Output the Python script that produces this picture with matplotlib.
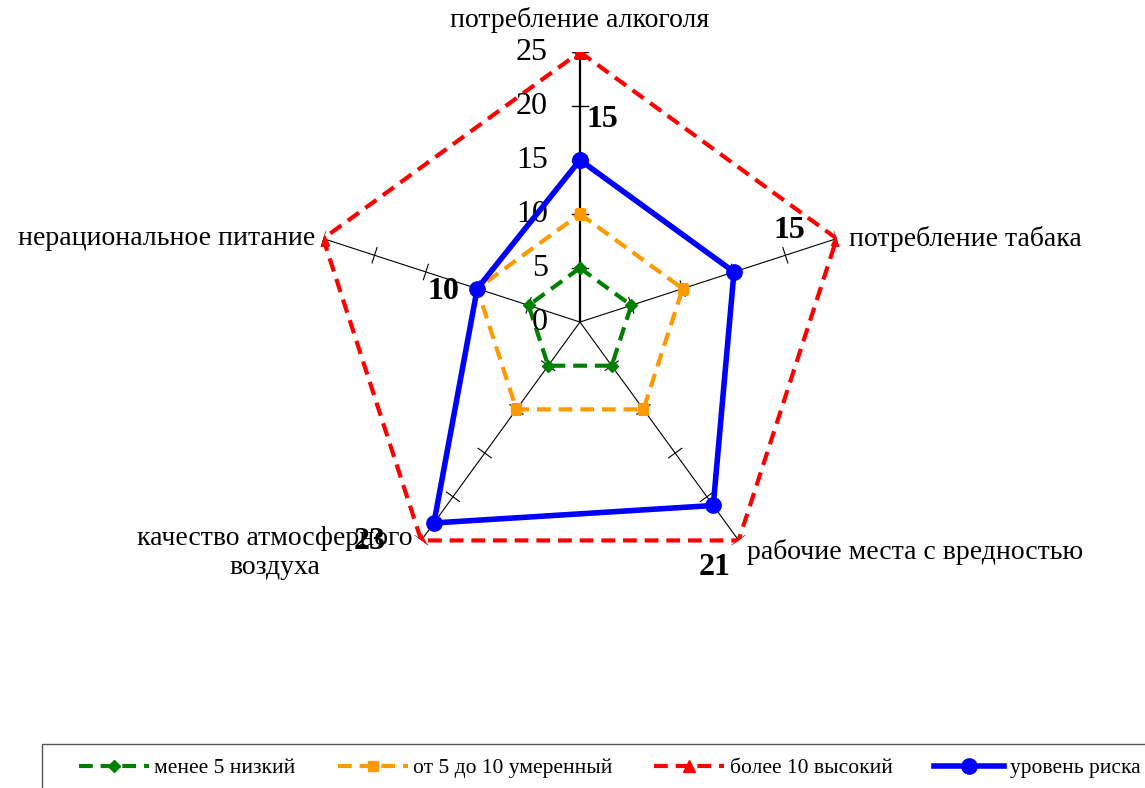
import numpy as np
import matplotlib
matplotlib.use("Agg")
import matplotlib.pyplot as plt
from matplotlib.patches import Rectangle

plt.rcParams['font.family'] = ['Liberation Serif', 'DejaVu Serif']

categories = ['потребление алкоголя', 'потребление табака', 'рабочие места с вредностью',
              'качество атмосферного\nвоздуха', 'нерациональное питание']
low = [5, 5, 5, 5, 5]
moderate = [10, 10, 10, 10, 10]
high = [25, 25, 25, 25, 25]
risk = [15, 15, 21, 23, 10]
radial_ticks = [0, 5, 10, 15, 20, 25]

n = len(categories)
theta = np.arange(n) * 2 * np.pi / n
tc = np.append(theta, theta[0])

def closed(v):
    return list(v) + [v[0]]

fig = plt.figure(figsize=(11.45, 7.88), dpi=100)
ax = fig.add_axes([0.2707, 0.2487, 0.4716, 0.6853], projection='polar')
ax.set_theta_offset(np.pi / 2)
ax.set_theta_direction(-1)
ax.set_ylim(0, 25)
ax.grid(False)
ax.spines['polar'].set_visible(False)
ax.set_xticks([])
ax.set_yticks([])
ax.patch.set_alpha(0)

# spokes with tick marks
for i, t in enumerate(theta):
    lw = 1.6 if i == 0 else 0.8
    ax.plot([t, t], [0, 25], color='black', lw=lw, zorder=1)
    for r in radial_ticks[1:]:
        h = 0.75
        dt = np.arctan(h / r)
        rr = np.hypot(r, h)
        ax.plot([t - dt, t + dt], [rr, rr], color='black', lw=0.8 if i else 1.0, zorder=1)

dash = (0, (3.3, 1.9))
ax.plot(tc, closed(low), color='#008000', lw=3, ls=dash, marker='D', ms=6,
        label='менее 5 низкий', zorder=3)
ax.plot(tc, closed(moderate), color='#FF9900', lw=3, ls=dash, marker='s', ms=7,
        label='от 5 до 10 умеренный', zorder=3)
ax.plot(tc, closed(high), color='#FF0000', lw=3, ls=dash, marker='^', ms=9,
        label='более 10 высокий', zorder=3)
ax.plot(tc, closed(risk), color='#0000FF', lw=4, marker='o', ms=11,
        label='уровень риска', zorder=4)

# radial tick labels
for r in radial_ticks:
    ax.annotate(str(r), xy=(0, r), xytext=(-23, 0), textcoords='offset points',
                ha='right', va='center', fontsize=23, annotation_clip=False)

# data labels
offsets = [(16, 29), (40, 30), (1, -45), (-46, -13), (-24, -2)]
for t, v, off in zip(theta, risk, offsets):
    ax.annotate(str(v), xy=(t, v), xytext=off, textcoords='offset points',
                ha='center', va='center', fontsize=23, fontweight='bold', zorder=5)

# category labels
lab_pos = [((0, 25), (0, 14), 'center', 'bottom'),
           ((theta[1], 25), (9, 0), 'left', 'center'),
           ((theta[2], 25), (6, -8), 'left', 'center'),
           ((theta[3], 25), (-6, -9), 'right', 'center'),
           ((theta[4], 25), (-6, 0), 'right', 'center')]
for name, (xy, off, ha, va) in zip(categories, lab_pos):
    ax.annotate(name, xy=xy, xytext=off, textcoords='offset points', ha=ha, va=va,
                fontsize=20, multialignment='center', annotation_clip=False)

# legend box (runs past the right and bottom edges, as in the source)
fig.patches.append(Rectangle((42 / 1145, -0.05), 1.0, 0.05 + 1 - 744 / 788,
                             transform=fig.transFigure, fill=False,
                             edgecolor='#555555', lw=1.0))
leg = fig.legend(loc='center left', bbox_to_anchor=(79 / 1145, 1 - 768 / 788),
                 ncol=4, fontsize=15.5, frameon=False, handlelength=3.25,
                 borderpad=0, borderaxespad=0, handletextpad=0.25, columnspacing=1.95)

fig.savefig('out.png', dpi=100)
